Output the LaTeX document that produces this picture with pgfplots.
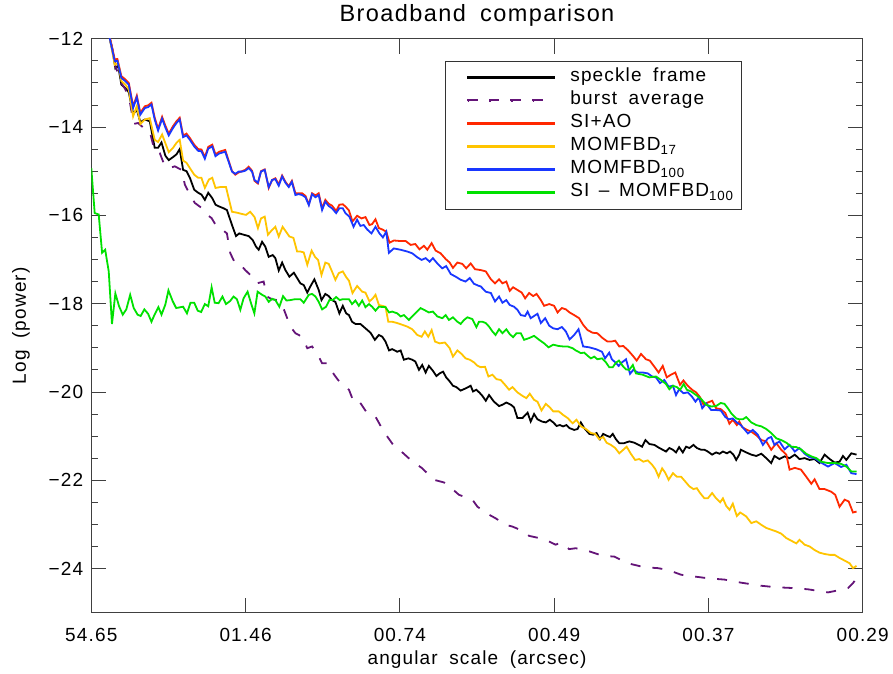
\documentclass[border=0pt]{standalone}
\usepackage{pgfplots}
\pgfplotsset{compat=1.18}
\usepackage{fontspec}
\setmainfont{Liberation Sans}[LetterSpace=6, WordSpace=1.8]
\definecolor{cred}{RGB}{255,40,0}
\definecolor{cyel}{RGB}{255,196,0}
\definecolor{cblu}{RGB}{25,55,255}
\definecolor{cgrn}{RGB}{0,225,0}
\definecolor{cpur}{RGB}{100,20,120}
\begin{document}
\begin{tikzpicture}
\useasboundingbox (-91.3pt,-60.3pt) rectangle (801.7pt,612.7pt);
\begin{axis}[
  at={(0pt,0pt)}, anchor=south west,
  scale only axis, width=771.4pt, height=574pt,
  xmin=0, xmax=5, ymin=-25, ymax=-12,
  xtick={0,1,2,3,4,5},
  xticklabels={54.65,01.46,00.74,00.49,00.37,00.29},
  ytick={-24,-22,-20,-18,-16,-14,-12},
  yticklabels={−24,−22,−20,−18,−16,−14,−12},
  minor y tick num=3,
  tick align=inside,
  major tick length=15pt, minor tick length=7pt,
  axis line style={black!75, line width=0.9pt},
  tick style={black!75, line width=0.8pt},
  ticklabel style={font=\fontsize{19}{22}\selectfont},
  xticklabel style={anchor=north, inner sep=0pt, yshift=-15pt},
  yticklabel style={anchor=east, inner sep=0pt, xshift=-8pt},
  title={Broadband comparison},
  title style={at={(axis description cs:0.5,1.0192)}, anchor=base, inner sep=0pt, font=\fontsize{23.5}{26}\selectfont},
  xlabel={angular scale (arcsec)},
  xlabel style={at={(axis description cs:0.5,-0.0911)}, anchor=base, inner sep=0pt, font=\fontsize{19}{22}\selectfont},
  ylabel={Log (power)},
  ylabel style={at={(axis description cs:-0.0911,0.5)}, anchor=center, inner sep=0pt, font=\fontsize{19}{22}\selectfont},
  legend style={at={(rel axis cs:0.4585,0.9617)}, anchor=north west,
    draw=black!80, inner xsep=8pt, inner ysep=8pt,
    font=\fontsize{19}{22}\selectfont,
    nodes={inner sep=0pt, text height=13pt, text depth=4pt, anchor=west},
    row sep=6pt, column sep=15pt},
  legend cell align=left,
]
% speckle frame
\addplot[black, line width=1.8pt, legend image code/.code={\path (0pt,0pt); \fill[black] (13.7pt,-0.9pt) rectangle (100.4pt,0.9pt);}] coordinates {
(0.09,-11.55)(0.12,-12.0)(0.141,-12.33)(0.156,-12.67)(0.174,-12.61)(0.195,-13.04)(0.221,-13.12)(0.243,-13.21)(0.271,-13.70)(0.295,-13.61)(0.318,-13.89)(0.347,-13.83)(0.379,-13.87)(0.411,-14.47)(0.433,-14.47)(0.455,-14.35)(0.48,-14.65)(0.502,-14.75)(0.53,-14.68)(0.552,-14.62)(0.573,-14.50)(0.595,-14.97)(0.617,-15.00)(0.639,-15.15)(0.667,-15.42)(0.693,-15.49)(0.714,-15.53)(0.736,-15.65)(0.758,-15.49)(0.784,-15.61)(0.805,-15.76)(0.829,-15.80)(0.857,-15.84)(0.879,-15.88)(0.912,-16.22)(0.938,-16.47)(0.959,-16.41)(0.988,-16.44)(1.02,-16.47)(1.046,-16.56)(1.068,-16.71)(1.085,-16.78)(1.107,-16.60)(1.128,-16.71)(1.15,-16.94)(1.176,-16.90)(1.193,-16.97)(1.215,-17.25)(1.237,-17.07)(1.258,-17.24)(1.284,-17.39)(1.313,-17.30)(1.334,-17.42)(1.355,-17.54)(1.377,-17.58)(1.40,-17.75)(1.42,-17.61)(1.446,-17.45)(1.474,-17.69)(1.492,-17.92)(1.517,-17.78)(1.539,-17.83)(1.56,-17.92)(1.582,-17.96)(1.608,-18.22)(1.63,-18.05)(1.652,-18.22)(1.67,-18.26)(1.69,-18.41)(1.712,-18.46)(1.744,-18.46)(1.777,-18.56)(1.81,-18.66)(1.838,-18.82)(1.864,-18.71)(1.886,-18.75)(1.907,-18.86)(1.93,-19.06)(1.95,-19.03)(1.983,-19.09)(2.005,-19.06)(2.026,-19.27)(2.055,-19.24)(2.08,-19.27)(2.10,-19.31)(2.124,-19.50)(2.145,-19.39)(2.167,-19.56)(2.188,-19.41)(2.214,-19.52)(2.237,-19.64)(2.258,-19.58)(2.28,-19.54)(2.30,-19.67)(2.323,-19.76)(2.344,-19.86)(2.366,-19.89)(2.394,-19.97)(2.426,-19.92)(2.459,-19.86)(2.474,-19.99)(2.496,-19.95)(2.517,-20.02)(2.535,-20.09)(2.557,-20.20)(2.578,-20.07)(2.61,-20.22)(2.643,-20.32)(2.665,-20.29)(2.69,-20.24)(2.72,-20.29)(2.74,-20.35)(2.762,-20.59)(2.795,-20.59)(2.828,-20.47)(2.848,-20.67)(2.87,-20.50)(2.892,-20.62)(2.92,-20.67)(2.946,-20.69)(2.972,-20.63)(2.994,-20.69)(3.016,-20.77)(3.037,-20.75)(3.058,-20.78)(3.08,-20.75)(3.10,-20.82)(3.13,-20.86)(3.152,-20.84)(3.173,-20.69)(3.195,-20.82)(3.228,-20.95)(3.253,-20.97)(3.275,-20.93)(3.297,-21.07)(3.318,-20.95)(3.34,-20.99)(3.362,-21.02)(3.38,-20.95)(3.40,-21.07)(3.422,-21.16)(3.454,-21.16)(3.487,-21.12)(3.52,-21.15)(3.548,-21.20)(3.57,-21.24)(3.592,-21.09)(3.617,-21.18)(3.65,-21.20)(3.682,-21.27)(3.704,-21.31)(3.725,-21.35)(3.747,-21.27)(3.77,-21.31)(3.79,-21.37)(3.81,-21.25)(3.834,-21.37)(3.855,-21.24)(3.877,-21.27)(3.903,-21.20)(3.925,-21.27)(3.953,-21.31)(3.974,-21.31)(3.996,-21.35)(4.024,-21.42)(4.05,-21.37)(4.072,-21.40)(4.094,-21.35)(4.12,-21.39)(4.14,-21.35)(4.162,-21.42)(4.18,-21.54)(4.20,-21.42)(4.21,-21.31)(4.245,-21.37)(4.278,-21.42)(4.31,-21.45)(4.343,-21.40)(4.375,-21.50)(4.407,-21.61)(4.428,-21.45)(4.46,-21.52)(4.494,-21.46)(4.526,-21.50)(4.56,-21.42)(4.59,-21.52)(4.624,-21.50)(4.656,-21.54)(4.688,-21.52)(4.72,-21.61)(4.753,-21.42)(4.786,-21.52)(4.818,-21.60)(4.85,-21.58)(4.872,-21.45)(4.894,-21.54)(4.926,-21.39)(4.96,-21.42)
};
\addlegendentry{speckle frame}
% burst average
\addplot[cpur, line width=1.8pt, dash pattern=on 10pt off 12pt, legend image code/.code={\path (0pt,0pt); \fill[cpur] (13.7pt,-0.9pt) rectangle (23.7pt,0.9pt); \fill[cpur] (35.4pt,-0.9pt) rectangle (45.4pt,0.9pt); \fill[cpur] (57.1pt,-0.9pt) rectangle (67.1pt,0.9pt); \fill[cpur] (78.8pt,-0.9pt) rectangle (88.8pt,0.9pt); \path (100.4pt,0pt);}] coordinates {
(0.09,-11.55)(0.12,-12.0)(0.141,-12.29)(0.156,-12.62)(0.195,-13.0)(0.221,-13.15)(0.249,-13.42)(0.275,-13.93)(0.303,-13.91)(0.336,-14.01)(0.379,-14.10)(0.411,-14.55)(0.444,-14.59)(0.477,-14.89)(0.509,-14.93)(0.541,-14.89)(0.584,-14.97)(0.607,-15.31)(0.639,-15.53)(0.671,-15.72)(0.714,-15.83)(0.747,-15.98)(0.779,-16.06)(0.812,-16.25)(0.847,-16.32)(0.879,-16.41)(0.901,-16.86)(0.933,-17.09)(0.966,-17.12)(0.998,-17.24)(1.042,-17.39)(1.074,-17.54)(1.117,-17.50)(1.139,-17.84)(1.171,-17.90)(1.204,-17.92)(1.237,-18.03)(1.258,-18.22)(1.29,-18.52)(1.323,-18.67)(1.366,-18.75)(1.40,-19.01)(1.431,-18.97)(1.474,-19.20)(1.496,-19.35)(1.528,-19.35)(1.56,-19.54)(1.593,-19.70)(1.626,-19.84)(1.67,-19.95)(1.70,-20.22)(1.734,-20.20)(1.788,-20.48)(1.842,-20.56)(1.896,-20.90)(1.961,-21.22)(1.994,-21.30)(2.07,-21.54)(2.145,-21.73)(2.221,-21.99)(2.286,-22.05)(2.308,-22.10)(2.383,-22.33)(2.47,-22.44)(2.503,-22.60)(2.578,-22.78)(2.62,-22.86)(2.686,-23.01)(2.73,-23.05)(2.805,-23.16)(2.838,-23.26)(2.903,-23.31)(2.946,-23.35)(3.01,-23.46)(3.044,-23.41)(3.097,-23.56)(3.14,-23.54)(3.227,-23.61)(3.314,-23.71)(3.39,-23.73)(3.477,-23.88)(3.584,-23.97)(3.671,-23.99)(3.736,-24.03)(3.823,-24.14)(3.909,-24.18)(3.996,-24.22)(4.104,-24.25)(4.212,-24.32)(4.343,-24.39)(4.428,-24.42)(4.537,-24.44)(4.645,-24.47)(4.775,-24.54)(4.86,-24.48)(4.905,-24.44)(4.937,-24.33)(4.96,-24.22)
};
\addlegendentry{burst average}
% SI+AO
\addplot[cred, line width=1.8pt, legend image code/.code={\path (0pt,0pt); \fill[cred] (13.7pt,-0.9pt) rectangle (100.4pt,0.9pt);}] coordinates {
(0.09,-11.46)(0.12,-11.96)(0.152,-12.47)(0.169,-12.46)(0.195,-12.85)(0.217,-12.91)(0.243,-13.0)(0.271,-13.53)(0.295,-13.29)(0.318,-13.68)(0.347,-13.53)(0.368,-13.51)(0.39,-13.45)(0.411,-13.79)(0.433,-14.04)(0.459,-13.77)(0.48,-13.97)(0.502,-14.15)(0.53,-13.98)(0.552,-13.87)(0.573,-13.79)(0.595,-14.19)(0.617,-14.15)(0.639,-14.25)(0.667,-14.40)(0.693,-14.50)(0.714,-14.51)(0.736,-14.68)(0.758,-14.45)(0.784,-14.40)(0.805,-14.62)(0.829,-14.56)(0.868,-14.52)(0.912,-15.0)(0.933,-15.08)(0.955,-15.03)(0.977,-15.0)(0.998,-14.97)(1.02,-14.9)(1.042,-14.99)(1.058,-15.22)(1.08,-15.28)(1.10,-15.0)(1.124,-14.96)(1.15,-15.38)(1.172,-15.2)(1.193,-15.16)(1.215,-15.3)(1.237,-15.1)(1.258,-15.24)(1.28,-15.34)(1.30,-15.22)(1.323,-15.5)(1.344,-15.5)(1.366,-15.5)(1.388,-15.56)(1.41,-15.75)(1.431,-15.5)(1.453,-15.55)(1.474,-15.5)(1.496,-15.84)(1.517,-15.65)(1.539,-15.74)(1.56,-15.78)(1.587,-15.9)(1.608,-15.76)(1.63,-15.75)(1.647,-15.80)(1.67,-15.89)(1.693,-16.14)(1.723,-16.01)(1.751,-16.07)(1.777,-16.04)(1.803,-16.22)(1.82,-16.20)(1.842,-16.09)(1.864,-16.29)(1.886,-16.32)(1.912,-16.37)(1.933,-16.62)(1.961,-16.57)(1.994,-16.58)(2.037,-16.58)(2.07,-16.67)(2.10,-16.65)(2.127,-16.77)(2.156,-16.69)(2.178,-16.78)(2.206,-16.63)(2.232,-16.80)(2.264,-16.86)(2.297,-16.99)(2.323,-17.07)(2.344,-17.19)(2.373,-17.07)(2.405,-17.10)(2.43,-17.20)(2.459,-17.09)(2.487,-17.22)(2.524,-17.24)(2.557,-17.27)(2.59,-17.45)(2.617,-17.54)(2.643,-17.45)(2.665,-17.54)(2.69,-17.50)(2.712,-17.71)(2.734,-17.63)(2.762,-17.69)(2.79,-17.75)(2.812,-17.88)(2.838,-17.76)(2.864,-17.83)(2.886,-17.78)(2.914,-17.92)(2.935,-18.05)(2.968,-18.01)(3.0,-18.05)(3.022,-18.20)(3.05,-18.10)(3.076,-18.13)(3.10,-18.20)(3.13,-18.26)(3.162,-18.33)(3.188,-18.48)(3.217,-18.60)(3.25,-18.66)(3.28,-18.67)(3.314,-18.78)(3.346,-18.86)(3.368,-18.86)(3.396,-18.84)(3.422,-18.97)(3.448,-18.96)(3.477,-19.05)(3.51,-19.18)(3.535,-19.29)(3.563,-19.14)(3.595,-19.26)(3.62,-19.29)(3.65,-19.43)(3.677,-19.56)(3.704,-19.41)(3.73,-19.67)(3.757,-19.61)(3.785,-19.56)(3.816,-19.84)(3.838,-19.74)(3.866,-19.86)(3.894,-19.95)(3.92,-20.01)(3.946,-20.12)(3.968,-20.29)(3.996,-20.24)(4.024,-20.20)(4.05,-20.37)(4.08,-20.39)(4.11,-20.48)(4.136,-20.72)(4.158,-20.63)(4.184,-20.75)(4.20,-20.67)(4.22,-20.80)(4.25,-20.86)(4.278,-20.90)(4.31,-20.98)(4.343,-21.09)(4.375,-21.12)(4.407,-21.31)(4.44,-21.16)(4.472,-21.31)(4.505,-21.42)(4.526,-21.76)(4.56,-21.72)(4.60,-21.76)(4.634,-21.92)(4.667,-22.08)(4.688,-21.98)(4.72,-22.20)(4.753,-22.20)(4.796,-22.26)(4.822,-22.33)(4.85,-22.60)(4.883,-22.44)(4.909,-22.48)(4.937,-22.73)(4.96,-22.71)
};
\addlegendentry{SI+AO}
% MOMFBD17
\addplot[cyel, line width=1.8pt, legend image code/.code={\path (0pt,0pt); \fill[cyel] (13.7pt,-0.9pt) rectangle (100.4pt,0.9pt);}] coordinates {
(0.09,-11.55)(0.12,-12.0)(0.152,-12.59)(0.174,-12.55)(0.195,-12.96)(0.221,-13.04)(0.243,-13.15)(0.271,-13.76)(0.295,-13.53)(0.318,-13.93)(0.347,-13.83)(0.379,-13.80)(0.411,-14.29)(0.433,-14.34)(0.459,-14.17)(0.502,-14.57)(0.53,-14.47)(0.552,-14.36)(0.573,-14.29)(0.595,-14.76)(0.617,-14.81)(0.639,-14.93)(0.667,-15.08)(0.693,-15.15)(0.714,-15.15)(0.736,-15.38)(0.762,-15.19)(0.784,-15.15)(0.805,-15.38)(0.836,-15.36)(0.873,-15.36)(0.912,-15.92)(0.944,-15.94)(0.977,-15.97)(1.003,-15.99)(1.03,-15.92)(1.058,-16.04)(1.08,-16.29)(1.10,-16.07)(1.124,-16.03)(1.145,-16.44)(1.172,-16.33)(1.193,-16.26)(1.215,-16.48)(1.24,-16.26)(1.262,-16.37)(1.284,-16.48)(1.31,-16.51)(1.334,-16.82)(1.355,-16.82)(1.377,-16.84)(1.40,-17.12)(1.428,-16.80)(1.45,-16.94)(1.47,-17.01)(1.492,-17.35)(1.517,-17.07)(1.539,-17.10)(1.56,-17.27)(1.582,-17.46)(1.604,-17.31)(1.63,-17.27)(1.652,-17.40)(1.67,-17.48)(1.693,-17.76)(1.723,-17.60)(1.756,-17.73)(1.777,-17.75)(1.803,-17.95)(1.825,-17.88)(1.842,-17.80)(1.864,-18.03)(1.886,-18.05)(1.907,-18.07)(1.925,-18.41)(1.95,-18.41)(1.983,-18.44)(2.016,-18.48)(2.048,-18.52)(2.08,-18.58)(2.113,-18.71)(2.141,-18.75)(2.162,-18.63)(2.184,-18.75)(2.206,-18.60)(2.228,-18.86)(2.258,-18.90)(2.292,-18.88)(2.323,-19.01)(2.344,-19.20)(2.373,-19.06)(2.40,-19.14)(2.426,-19.24)(2.453,-19.27)(2.48,-19.33)(2.50,-19.40)(2.524,-19.44)(2.552,-19.43)(2.574,-19.65)(2.60,-19.61)(2.626,-19.71)(2.654,-19.73)(2.682,-19.84)(2.708,-19.95)(2.73,-19.89)(2.762,-20.01)(2.795,-20.09)(2.82,-20.14)(2.842,-20.04)(2.87,-20.18)(2.892,-20.22)(2.918,-20.42)(2.946,-20.27)(2.972,-20.35)(2.994,-20.44)(3.03,-20.44)(3.058,-20.52)(3.087,-20.59)(3.12,-20.71)(3.145,-20.63)(3.173,-20.78)(3.206,-20.84)(3.238,-20.93)(3.266,-20.95)(3.292,-21.07)(3.318,-21.02)(3.34,-21.15)(3.368,-21.20)(3.396,-21.27)(3.422,-21.39)(3.448,-21.31)(3.47,-21.24)(3.497,-21.40)(3.525,-21.54)(3.552,-21.52)(3.578,-21.58)(3.607,-21.55)(3.635,-21.65)(3.656,-21.75)(3.677,-21.92)(3.70,-21.73)(3.72,-21.83)(3.742,-21.99)(3.77,-21.84)(3.795,-21.92)(3.823,-21.92)(3.85,-22.03)(3.877,-22.14)(3.903,-22.20)(3.925,-22.18)(3.946,-22.29)(3.974,-22.41)(3.996,-22.41)(4.024,-22.29)(4.05,-22.41)(4.076,-22.50)(4.094,-22.41)(4.115,-22.58)(4.137,-22.67)(4.158,-22.53)(4.184,-22.81)(4.206,-22.73)(4.245,-22.82)(4.278,-22.97)(4.31,-22.93)(4.343,-23.01)(4.375,-23.08)(4.407,-23.12)(4.44,-23.16)(4.472,-23.21)(4.505,-23.31)(4.537,-23.37)(4.57,-23.43)(4.59,-23.35)(4.624,-23.46)(4.656,-23.50)(4.688,-23.58)(4.72,-23.64)(4.753,-23.67)(4.786,-23.69)(4.818,-23.69)(4.85,-23.76)(4.883,-23.82)(4.915,-23.88)(4.937,-23.99)(4.96,-23.94)
};
\addlegendentry{MOMFBD\textsubscript{17}}
% MOMFBD100
\addplot[cblu, line width=1.8pt, legend image code/.code={\path (0pt,0pt); \fill[cblu] (13.7pt,-0.9pt) rectangle (100.4pt,0.9pt);}] coordinates {
(0.09,-11.5)(0.12,-12.0)(0.152,-12.51)(0.169,-12.50)(0.195,-12.89)(0.217,-12.95)(0.243,-13.04)(0.271,-13.57)(0.295,-13.33)(0.318,-13.72)(0.347,-13.57)(0.368,-13.55)(0.39,-13.49)(0.411,-13.83)(0.433,-14.08)(0.459,-13.81)(0.48,-14.01)(0.502,-14.19)(0.53,-14.02)(0.552,-13.91)(0.573,-13.83)(0.595,-14.23)(0.617,-14.19)(0.639,-14.29)(0.667,-14.44)(0.693,-14.54)(0.714,-14.55)(0.736,-14.72)(0.758,-14.49)(0.784,-14.44)(0.805,-14.66)(0.829,-14.60)(0.868,-14.56)(0.912,-15.01)(0.933,-15.06)(0.955,-15.01)(0.977,-15.01)(0.998,-14.99)(1.02,-14.93)(1.042,-15.01)(1.058,-15.20)(1.08,-15.26)(1.10,-15.01)(1.124,-14.97)(1.15,-15.36)(1.172,-15.20)(1.193,-15.18)(1.215,-15.33)(1.237,-15.12)(1.258,-15.26)(1.28,-15.36)(1.30,-15.24)(1.323,-15.54)(1.344,-15.52)(1.366,-15.54)(1.388,-15.59)(1.41,-15.77)(1.431,-15.52)(1.453,-15.59)(1.474,-15.54)(1.496,-15.88)(1.517,-15.69)(1.539,-15.79)(1.56,-15.84)(1.587,-15.95)(1.608,-15.84)(1.63,-15.84)(1.647,-15.95)(1.673,-16.03)(1.70,-16.26)(1.723,-16.10)(1.744,-16.24)(1.766,-16.22)(1.788,-16.32)(1.816,-16.41)(1.842,-16.26)(1.868,-16.41)(1.89,-16.50)(1.912,-16.37)(1.929,-16.85)(1.961,-16.75)(2.005,-16.78)(2.048,-16.82)(2.08,-16.86)(2.113,-16.95)(2.141,-17.01)(2.167,-16.97)(2.193,-17.05)(2.214,-16.97)(2.243,-17.09)(2.275,-17.20)(2.30,-17.15)(2.33,-17.33)(2.362,-17.39)(2.394,-17.46)(2.426,-17.50)(2.453,-17.42)(2.48,-17.55)(2.513,-17.60)(2.524,-17.61)(2.557,-17.73)(2.59,-17.76)(2.617,-17.95)(2.643,-17.84)(2.665,-17.98)(2.69,-17.92)(2.712,-18.03)(2.74,-18.07)(2.762,-18.14)(2.784,-18.26)(2.812,-18.28)(2.828,-18.18)(2.848,-18.33)(2.87,-18.28)(2.892,-18.23)(2.914,-18.44)(2.942,-18.33)(2.968,-18.50)(2.994,-18.56)(3.022,-18.58)(3.05,-18.53)(3.076,-18.63)(3.10,-18.81)(3.13,-18.71)(3.158,-18.58)(3.188,-18.97)(3.228,-18.99)(3.27,-19.03)(3.31,-19.09)(3.33,-19.24)(3.357,-19.11)(3.374,-19.26)(3.396,-19.33)(3.418,-19.41)(3.44,-19.33)(3.466,-19.26)(3.492,-19.59)(3.513,-19.50)(3.542,-19.56)(3.574,-19.56)(3.607,-19.58)(3.635,-19.65)(3.66,-19.67)(3.686,-19.80)(3.714,-19.73)(3.742,-19.88)(3.77,-19.86)(3.79,-20.07)(3.81,-19.94)(3.838,-20.03)(3.866,-20.01)(3.894,-20.11)(3.916,-20.22)(3.938,-20.12)(3.96,-20.37)(3.986,-20.26)(4.018,-20.41)(4.05,-20.41)(4.08,-20.42)(4.11,-20.57)(4.132,-20.62)(4.158,-20.60)(4.184,-20.69)(4.21,-20.75)(4.256,-20.94)(4.288,-20.86)(4.32,-20.97)(4.353,-21.20)(4.386,-21.05)(4.407,-21.02)(4.428,-21.20)(4.46,-21.12)(4.494,-21.30)(4.526,-21.20)(4.56,-21.35)(4.59,-21.27)(4.624,-21.40)(4.656,-21.48)(4.688,-21.50)(4.73,-21.60)(4.775,-21.69)(4.818,-21.61)(4.86,-21.70)(4.894,-21.65)(4.926,-21.84)(4.96,-21.86)
};
\addlegendentry{MOMFBD\textsubscript{100}}
% SI - MOMFBD100
\addplot[cgrn, line width=1.8pt, legend image code/.code={\path (0pt,0pt); \fill[cgrn] (13.7pt,-0.9pt) rectangle (100.4pt,0.9pt);}] coordinates {
(0,-14.93)(0.022,-15.95)(0.048,-15.98)(0.07,-16.85)(0.09,-16.78)(0.113,-17.27)(0.134,-18.46)(0.156,-17.77)(0.18,-18.06)(0.204,-18.25)(0.227,-18.13)(0.252,-17.80)(0.275,-18.10)(0.30,-18.25)(0.32,-18.28)(0.344,-18.13)(0.368,-18.23)(0.39,-18.41)(0.41,-18.25)(0.435,-18.08)(0.455,-18.25)(0.48,-18.02)(0.50,-17.70)(0.527,-17.94)(0.55,-18.10)(0.595,-18.07)(0.62,-18.22)(0.643,-17.98)(0.667,-17.98)(0.69,-18.16)(0.712,-18.19)(0.736,-18.01)(0.758,-18.06)(0.78,-17.63)(0.80,-17.98)(0.825,-17.99)(0.85,-17.84)(0.873,-18.01)(0.90,-17.94)(0.922,-17.84)(0.944,-17.90)(0.966,-18.14)(0.987,-17.88)(1.013,-17.73)(1.037,-18.01)(1.057,-18.22)(1.078,-17.73)(1.107,-17.80)(1.128,-17.84)(1.15,-17.96)(1.172,-17.89)(1.193,-17.92)(1.219,-18.07)(1.243,-17.83)(1.265,-17.93)(1.29,-17.92)(1.32,-17.90)(1.355,-17.90)(1.377,-17.98)(1.41,-17.80)(1.431,-17.78)(1.453,-17.84)(1.474,-17.96)(1.496,-18.13)(1.522,-18.07)(1.543,-17.92)(1.565,-17.92)(1.587,-17.85)(1.61,-17.92)(1.63,-17.90)(1.67,-17.90)(1.69,-18.01)(1.712,-17.93)(1.734,-18.05)(1.756,-17.93)(1.777,-18.08)(1.80,-18.01)(1.82,-18.07)(1.842,-18.16)(1.864,-18.07)(1.907,-18.08)(1.93,-18.20)(1.95,-18.18)(1.983,-18.22)(2.005,-18.29)(2.026,-18.26)(2.058,-18.37)(2.08,-18.29)(2.10,-18.22)(2.134,-18.10)(2.167,-18.16)(2.188,-18.20)(2.214,-18.18)(2.243,-18.29)(2.275,-18.33)(2.297,-18.26)(2.318,-18.37)(2.344,-18.31)(2.373,-18.41)(2.394,-18.46)(2.416,-18.37)(2.438,-18.31)(2.47,-18.35)(2.496,-18.53)(2.513,-18.41)(2.535,-18.41)(2.557,-18.44)(2.578,-18.52)(2.60,-18.63)(2.62,-18.71)(2.643,-18.58)(2.665,-18.67)(2.69,-18.58)(2.712,-18.69)(2.734,-18.76)(2.756,-18.67)(2.784,-18.67)(2.805,-18.82)(2.838,-18.78)(2.87,-18.73)(2.903,-18.82)(2.935,-18.90)(2.964,-18.99)(2.994,-18.93)(3.03,-18.96)(3.058,-18.97)(3.087,-18.97)(3.12,-19.01)(3.14,-19.06)(3.173,-19.12)(3.195,-19.11)(3.217,-19.18)(3.238,-19.24)(3.26,-19.20)(3.28,-19.26)(3.31,-19.24)(3.336,-19.33)(3.357,-19.44)(3.38,-19.44)(3.40,-19.34)(3.42,-19.29)(3.444,-19.41)(3.466,-19.49)(3.487,-19.50)(3.51,-19.39)(3.53,-19.58)(3.574,-19.61)(3.617,-19.67)(3.66,-19.65)(3.693,-19.73)(3.725,-19.82)(3.747,-19.94)(3.77,-19.86)(3.795,-19.89)(3.817,-19.95)(3.84,-19.82)(3.86,-19.95)(3.888,-19.99)(3.92,-20.07)(3.953,-20.16)(3.985,-20.29)(4.018,-20.33)(4.05,-20.32)(4.08,-20.25)(4.104,-20.27)(4.126,-20.37)(4.147,-20.48)(4.18,-20.60)(4.20,-20.62)(4.223,-20.62)(4.245,-20.57)(4.278,-20.69)(4.31,-20.75)(4.343,-20.78)(4.375,-20.84)(4.407,-20.93)(4.44,-21.05)(4.472,-21.09)(4.505,-21.15)(4.537,-21.24)(4.57,-21.25)(4.60,-21.30)(4.634,-21.40)(4.667,-21.46)(4.70,-21.50)(4.73,-21.58)(4.775,-21.61)(4.818,-21.61)(4.86,-21.63)(4.894,-21.69)(4.926,-21.80)(4.96,-21.80)
};
\addlegendentry{SI\hspace{0.5em}–\hspace{0.5em}MOMFBD\textsubscript{100}}
\end{axis}
\end{tikzpicture}
\end{document}
